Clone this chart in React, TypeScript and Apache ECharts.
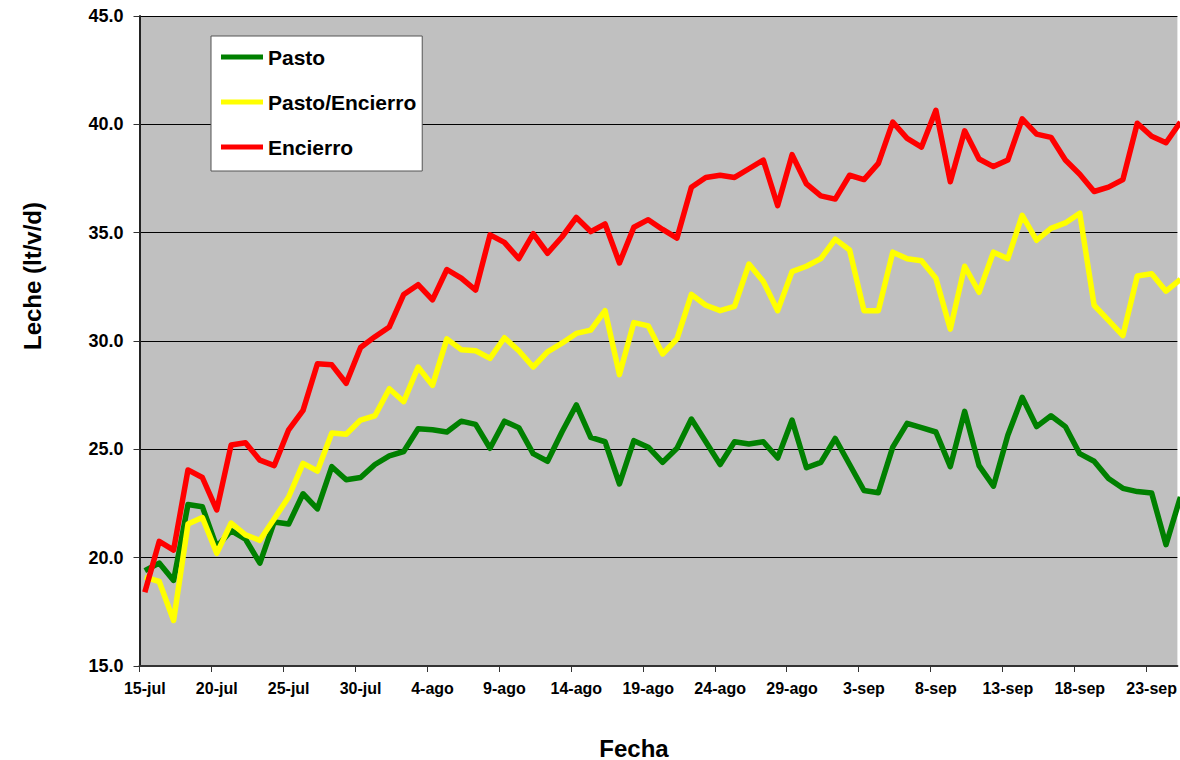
import React, { useEffect, useRef } from "react";
import * as echarts from "echarts";

// Daily milk yield (lt/cow/day) from 15-jul onwards, one value per day.
const PASTO = [
  19.4, 19.75, 18.95, 22.45, 22.35, 20.5, 21.25, 20.85, 19.75, 21.65,
  21.55, 22.95, 22.25, 24.2, 23.6, 23.7, 24.3, 24.7, 24.9, 25.95,
  25.9, 25.8, 26.3, 26.15, 25.05, 26.3, 26.0, 24.8, 24.45, 25.8,
  27.05, 25.55, 25.35, 23.4, 25.4, 25.1, 24.4, 25.05, 26.4, 25.35,
  24.3, 25.35, 25.25, 25.35, 24.6, 26.35, 24.15, 24.4, 25.5, 24.3,
  23.1, 23.0, 25.1, 26.2, 26.0, 25.8, 24.2, 26.75, 24.25, 23.3,
  25.65, 27.4, 26.05, 26.55, 26.05, 24.8, 24.45, 23.65, 23.2, 23.05,
  22.98, 20.6, 22.8,
];

const PASTO_ENCIERRO = [
  19.1, 18.9, 17.1, 21.55, 21.85, 20.2, 21.6, 21.05, 20.8, 21.8,
  22.8, 24.35, 24.0, 25.75, 25.7, 26.35, 26.55, 27.8, 27.2, 28.8,
  27.95, 30.1, 29.6, 29.55, 29.2, 30.15, 29.55, 28.8, 29.5, 29.9,
  30.35, 30.5, 31.4, 28.45, 30.85, 30.7, 29.4, 30.1, 32.15, 31.65,
  31.4, 31.6, 33.55, 32.75, 31.4, 33.2, 33.45, 33.8, 34.7, 34.2,
  31.4, 31.4, 34.1, 33.8, 33.7, 32.9, 30.55, 33.45, 32.25, 34.1,
  33.8, 35.8, 34.65, 35.2, 35.45, 35.9, 31.65, 30.95, 30.25, 33.0,
  33.1, 32.3, 32.85,
];

const ENCIERRO = [
  18.4, 20.75, 20.35, 24.05, 23.7, 22.2, 25.2, 25.3, 24.5, 24.25,
  25.9, 26.8, 28.95, 28.9, 28.05, 29.7, 30.2, 30.65, 32.15, 32.6,
  31.9, 33.3, 32.9, 32.35, 34.9, 34.55, 33.8, 34.95, 34.05, 34.8,
  35.7, 35.05, 35.4, 33.6, 35.25, 35.6, 35.15, 34.75, 37.1, 37.55,
  37.65, 37.55, 37.95, 38.35, 36.25, 38.6, 37.25, 36.7, 36.55, 37.65,
  37.45, 38.2, 40.1, 39.35, 38.95, 40.65, 37.35, 39.7, 38.4, 38.05,
  38.35, 40.25, 39.55, 39.4, 38.35, 37.7, 36.9, 37.1, 37.45, 40.05,
  39.45, 39.15, 40.1,
];

// Date labels every five days (day offsets from 15-jul).
const TICK_DAYS = [0, 5, 10, 15, 20, 25, 30, 35, 40, 45, 50, 55, 60, 65, 70];
const TICK_LABELS = [
  "15-jul", "20-jul", "25-jul", "30-jul", "4-ago", "9-ago", "14-ago", "19-ago",
  "24-ago", "29-ago", "3-sep", "8-sep", "13-sep", "18-sep", "23-sep",
];

const SERIES_NAMES = ["Pasto", "Pasto/Encierro", "Encierro"];
const SERIES_COLORS = ["#008000", "#FFFF00", "#FF0000"];

const FONT = '"Liberation Sans", Arial, Helvetica, sans-serif';
// The axis starts a little before the first reading; tick marks sit on that grid.
const AXIS_START = -0.37;
const AXIS_END = 71.79;

const toPoints = (values: number[]) => values.map((v, i) => [i, v]);

export default function App() {
  const ref = useRef<HTMLDivElement>(null);

  useEffect(() => {
    if (!ref.current) return;
    const chart = echarts.init(ref.current, undefined, { renderer: "svg" });
    const seriesValues = [PASTO, PASTO_ENCIERRO, ENCIERRO];

    chart.setOption({
      animation: false,
      backgroundColor: "#ffffff",
      textStyle: { fontFamily: FONT },
      grid: {
        left: 139.5,
        right: 0,
        top: 16,
        bottom: 94,
        show: true,
        backgroundColor: "#c0c0c0",
        borderWidth: 0,
      },
      legend: {
        orient: "vertical",
        left: 211,
        top: 36,
        data: SERIES_NAMES,
        icon: "rect",
        itemWidth: 42,
        itemHeight: 5,
        itemGap: 23,
        padding: [10, 6, 13, 10],
        backgroundColor: "#ffffff",
        borderColor: "#555555",
        borderWidth: 1,
        textStyle: {
          fontFamily: FONT,
          fontSize: 21,
          fontWeight: "bold",
          lineHeight: 22,
          color: "#000",
        },
      },
      xAxis: {
        type: "value",
        min: AXIS_START,
        max: AXIS_END,
        axisLine: { onZero: false, lineStyle: { color: "#333", width: 2 } },
        axisTick: {
          show: true,
          length: 6,
          lineStyle: { color: "#333", width: 1 },
          customValues: TICK_DAYS.map((d) => d + AXIS_START),
        },
        axisLabel: {
          customValues: TICK_DAYS,
          formatter: (v: number) => {
            const i = TICK_DAYS.indexOf(Math.round(v));
            return i >= 0 ? TICK_LABELS[i] : "";
          },
          margin: 14,
          fontFamily: FONT,
          fontSize: 16,
          fontWeight: "bold",
          color: "#000",
        },
        splitLine: { show: false },
      },
      yAxis: {
        type: "value",
        min: 15,
        max: 45,
        interval: 5,
        axisLine: { show: true, onZero: false, lineStyle: { color: "#222", width: 2 } },
        axisTick: { show: true, length: 6, lineStyle: { color: "#333" } },
        axisLabel: {
          formatter: (v: number) => v.toFixed(1),
          margin: 16,
          fontFamily: FONT,
          fontSize: 18,
          fontWeight: "bold",
          color: "#000",
        },
        splitLine: { show: true, lineStyle: { color: "#000", width: 1 } },
      },
      graphic: [
        {
          type: "text",
          x: 634,
          y: 748,
          style: {
            text: "Fecha",
            fontFamily: FONT,
            fontSize: 24,
            fontWeight: "bold",
            fill: "#000",
            align: "center",
            verticalAlign: "middle",
          },
        },
        {
          type: "text",
          x: 32,
          y: 276,
          rotation: Math.PI / 2,
          style: {
            text: "Leche (lt/v/d)",
            fontFamily: FONT,
            fontSize: 24,
            fontWeight: "bold",
            fill: "#000",
            align: "center",
            verticalAlign: "middle",
          },
        },
      ],
      series: SERIES_NAMES.map((name, k) => ({
        name,
        type: "line",
        data: toPoints(seriesValues[k]),
        symbol: "none",
        showSymbol: false,
        clip: true,
        color: SERIES_COLORS[k],
        itemStyle: { color: SERIES_COLORS[k] },
        lineStyle: { color: SERIES_COLORS[k], width: 5.5, join: "round" },
      })),
    });

    return () => chart.dispose();
  }, []);

  return (
    <div
      ref={ref}
      style={{ position: "fixed", left: 0, top: 0, width: 1180, height: 760 }}
    />
  );
}
